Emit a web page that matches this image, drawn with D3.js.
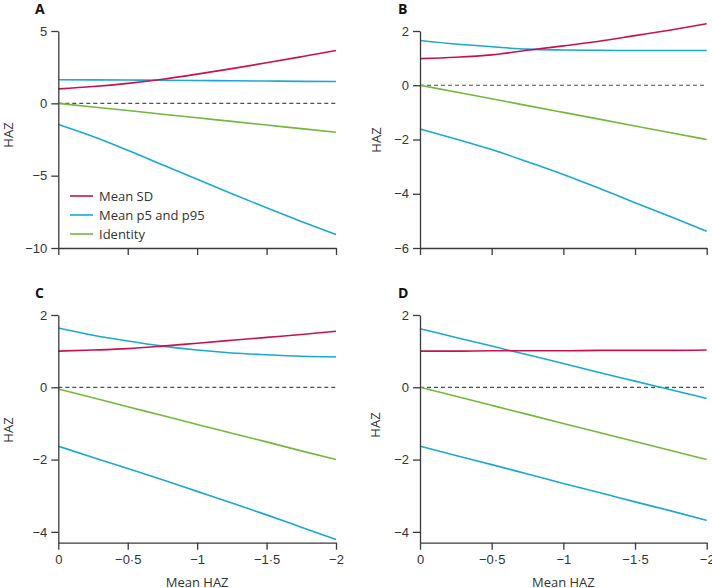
<!DOCTYPE html>
<html>
<head>
<meta charset="utf-8">
<script src="https://cdn.jsdelivr.net/npm/d3@7"></script>
<style>
  body { margin: 0; background: #fff; }
  svg { display: block; font-family: "Open Sans", "Liberation Sans", sans-serif; }
  .axis path, .axis line { stroke: #3a3a3a; stroke-width: 1.3; }
  .axis text { fill: #333; font-size: 13px; }
  .series { fill: none; stroke-width: 1.6; }
</style>
</head>
<body>
<svg id="chart" width="712" height="588"></svg>
<script>
// x values (mean HAZ)
const meanHaz = [0, -0.25, -0.5, -0.75, -1, -1.25, -1.5, -1.75, -2];
const xTicks = [0, -0.5, -1, -1.5, -2];

// panel A
const sdA = [1.0, 1.16, 1.38, 1.67, 2.02, 2.4, 2.8, 3.22, 3.65];
const p95A = [1.63, 1.62, 1.61, 1.6, 1.58, 1.56, 1.54, 1.52, 1.51];
const p5A = [-1.47, -2.3, -3.25, -4.25, -5.25, -6.25, -7.22, -8.16, -9.07];
const idA = [0, -0.25, -0.5, -0.75, -1, -1.25, -1.5, -1.75, -2];

// panel B
const sdB = [0.98, 1.03, 1.12, 1.29, 1.45, 1.62, 1.83, 2.04, 2.27];
const p95B = [1.65, 1.52, 1.42, 1.33, 1.3, 1.29, 1.28, 1.28, 1.28];
const p5B = [-1.61, -1.98, -2.37, -2.82, -3.29, -3.8, -4.33, -4.85, -5.38];
const idB = [0, -0.25, -0.5, -0.75, -1, -1.25, -1.5, -1.75, -2];

// panel C
const sdC = [1.0, 1.03, 1.07, 1.14, 1.22, 1.3, 1.38, 1.46, 1.55];
const p95C = [1.64, 1.44, 1.28, 1.14, 1.03, 0.95, 0.9, 0.86, 0.84];
const p5C = [-1.63, -1.94, -2.25, -2.56, -2.88, -3.2, -3.53, -3.87, -4.21];
const idC = [-0.05, -0.29, -0.54, -0.78, -1.03, -1.27, -1.51, -1.76, -2.0];

// panel D
const sdD = [1.0, 1.0, 1.01, 1.01, 1.01, 1.02, 1.02, 1.02, 1.03];
const p95D = [1.62, 1.38, 1.14, 0.9, 0.66, 0.41, 0.17, -0.07, -0.31];
const p5D = [-1.63, -1.89, -2.14, -2.4, -2.66, -2.91, -3.17, -3.42, -3.68];
const idD = [0, -0.25, -0.5, -0.75, -1, -1.25, -1.5, -1.75, -2];

const legendNames = ['Mean SD', 'Mean p5 and p95', 'Identity'];
const colors = {sd: '#c8124f', p: '#1aa8d4', id: '#74b83a'};

const svg = d3.select('#chart');

const fmt = d => String(d).replace('-', '\u2212').replace('.', '\u00b7');

const panels = [
  {label: 'A', x0: 58.3, x1: 336, y0: 31, y1: 248, dom: [-10, 5], yTicks: [5, 0, -5, -10],
   sd: sdA, p95: p95A, p5: p5A, id: idA, labels: false, legend: true, haz: [13, 135]},
  {label: 'B', x0: 420, x1: 706.7, y0: 31, y1: 248, dom: [-6, 2], yTicks: [2, 0, -2, -4, -6],
   sd: sdB, p95: p95B, p5: p5B, id: idB, labels: false, legend: false, haz: [381, 140]},
  {label: 'C', x0: 58.3, x1: 336, y0: 315, y1: 542.7, dom: [-4.3, 2], yTicks: [2, 0, -2, -4],
   sd: sdC, p95: p95C, p5: p5C, id: idC, labels: true, legend: false, haz: [13, 430]},
  {label: 'D', x0: 420, x1: 706.7, y0: 315, y1: 542.7, dom: [-4.3, 2], yTicks: [2, 0, -2, -4],
   sd: sdD, p95: p95D, p5: p5D, id: idD, labels: true, legend: false, haz: [380, 425]}
];

panels.forEach(p => {
  const g = svg.append('g');

  const x = d3.scaleLinear().domain([0, -2]).range([p.x0, p.x1]);
  const y = d3.scaleLinear().domain(p.dom).range([p.y1, p.y0]);

  // zero reference
  g.append('line')
    .attr('x1', x(0)).attr('x2', x(-2))
    .attr('y1', y(0)).attr('y2', y(0))
    .attr('stroke', '#3f5369')
    .attr('stroke-width', 1.2)
    .attr('stroke-dasharray', '4,3');

  const line = d3.line()
    .x((d, i) => x(meanHaz[i]))
    .y(d => y(d))
    .curve(d3.curveMonotoneX);

  [[p.id, colors.id], [p.p5, colors.p], [p.p95, colors.p], [p.sd, colors.sd]].forEach(([vals, c]) => {
    g.append('path')
      .attr('class', 'series')
      .attr('stroke', c)
      .attr('d', line(vals));
  });

  g.append('g')
    .attr('class', 'axis')
    .attr('transform', `translate(${p.x0},0)`)
    .call(d3.axisLeft(y).tickValues(p.yTicks).tickSize(7).tickPadding(4).tickSizeOuter(0).tickFormat(fmt));

  const xAxis = d3.axisBottom(x).tickValues(xTicks).tickSize(7).tickPadding(5).tickSizeOuter(0)
    .tickFormat(p.labels ? fmt : '');
  g.append('g')
    .attr('class', 'axis')
    .attr('transform', `translate(0,${p.y1})`)
    .call(xAxis);

  g.append('text')
    .attr('x', p.label === 'A' || p.label === 'C' ? 35 : 398)
    .attr('y', p.y0 - 17.5)
    .attr('font-size', 14)
    .attr('font-weight', 'bold')
    .attr('fill', '#111')
    .text(p.label);

  g.append('text')
    .attr('transform', `translate(${p.haz[0]},${p.haz[1]}) rotate(-90)`)
    .attr('text-anchor', 'middle')
    .attr('font-size', 13)
    .attr('fill', '#333')
    .text('HAZ');

  if (p.labels) {
    g.append('text')
      .attr('x', (p.x0 + p.x1) / 2)
      .attr('y', 587)
      .attr('text-anchor', 'middle')
      .attr('font-size', 13)
      .attr('fill', '#333')
      .text('Mean HAZ');
  }

  if (p.legend) {
    const lg = g.append('g').attr('transform', 'translate(70,196)');
    const lc = [colors.sd, colors.p, colors.id];
    legendNames.forEach((n, i) => {
      lg.append('line')
        .attr('x1', 0).attr('x2', 23)
        .attr('y1', i * 19).attr('y2', i * 19)
        .attr('stroke', lc[i]).attr('stroke-width', 1.6);
      lg.append('text')
        .attr('x', 29).attr('y', i * 19 + 5)
        .attr('font-size', 13)
        .attr('fill', '#333')
        .text(n);
    });
  }
});
</script>
</body>
</html>
